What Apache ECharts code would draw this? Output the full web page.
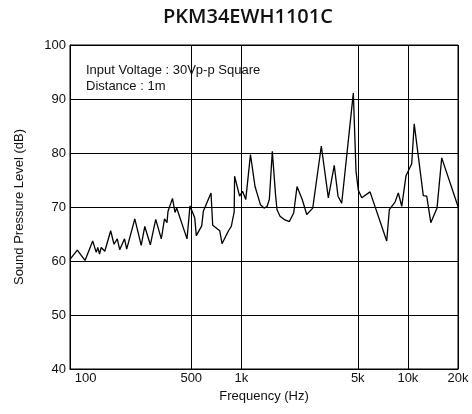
<!DOCTYPE html>
<html>
<head>
<meta charset="utf-8">
<script src="https://cdn.jsdelivr.net/npm/echarts@6/dist/echarts.min.js"></script>
<style>html,body{margin:0;padding:0;background:#fff}#c{width:472px;height:414px}</style>
</head>
<body>
<div id="c"></div>
<script>
var freqHz = [93.5,103.4,115.1,128.0,134.4,137.4,140.6,144.0,151.3,164.1,171.8,179.8,185.9,198.7,204.8,229.1,250.3,263.0,283.9,305.9,330.5,345.4,357.6,362.6,385.8,399.4,408.9,471.6,491.5,524.6,536.3,578.0,590.8,657.2,672.8,741.3,765.2,837.0,870.0,905.6,910.6,976.0,1016,1063,1134,1208,1303,1368,1426,1472,1534,1604,1637,1707,1829,1941,2062,2159,2320,2469,2683,3021,3329,3612,3806,4005,4703,4882,5040,5283,5925,7464,7738,8371,8762,9186,9748,10546,10916,12377,12976,13732,14962,15970,20000];
var splDb = [60.3,62.0,60.1,63.7,61.6,62.5,61.3,62.5,61.8,65.6,63.1,64.1,62.1,64.1,62.2,67.8,62.9,66.4,63.0,67.7,64.1,67.8,67.1,69.2,71.6,69.0,69.8,64.1,70.2,68.0,64.7,66.5,69.2,72.6,66.6,65.6,63.2,65.6,66.4,69.1,75.7,72.0,72.9,71.4,79.7,73.8,70.4,69.8,70.1,71.4,80.3,72.3,69.5,68.3,67.6,67.3,68.9,73.8,71.4,68.6,69.8,81.3,71.7,77.7,72.0,70.7,91.1,76.6,73.1,71.7,72.8,63.7,69.5,70.9,72.6,70.1,75.8,78.0,85.4,72.1,72.0,67.1,69.8,79.1,70.1];
var xTickValues = [100, 500, 1000, 5000, 10000, 20000];
var xTickLabels = ['100', '500', '1k', '5k', '10k', '20k'];
var gridFreqs = [500, 1000, 5000, 10000, 20000];
var titleText = 'PKM34EWH1101C';
var noteLines = ['Input Voltage : 30Vp-p Square', 'Distance : 1m'];

var data = freqHz.map(function (f, i) { return [f, splDb[i]]; });
var font = 'Liberation Sans, Arial, sans-serif';
var chart = echarts.init(document.getElementById('c'), null, {renderer: 'canvas'});
chart.setOption({
  animation: false,
  backgroundColor: '#ffffff',
  title: {
    text: titleText,
    left: 158, top: 2,
    textStyle: {fontFamily: 'Open Sans', fontWeight: 600, fontSize: 20, color: '#111'}
  },
  grid: {left: 70, right: 14, top: 45, bottom: 45, show: true, borderColor: '#000', borderWidth: 1},
  graphic: [{
    type: 'text', left: 86, top: 62,
    style: {text: noteLines.join('\n'), font: '13px ' + font, fill: '#111', lineHeight: 16}
  }],
  xAxis: {
    type: 'log', logBase: 10, min: 93.5, max: 20000,
    name: 'Frequency (Hz)', nameLocation: 'middle', nameGap: 19,
    nameTextStyle: {fontFamily: font, fontSize: 13, color: '#111'},
    axisLine: {show: true, lineStyle: {color: '#000', width: 1}},
    axisTick: {show: false, customValues: gridFreqs},
    splitLine: {show: true, lineStyle: {color: '#000', width: 1}},
    axisLabel: {
      customValues: xTickValues, alignMinLabel: 'left', margin: 3,
      fontFamily: font, fontSize: 13, color: '#111',
      formatter: function (v) { var i = xTickValues.indexOf(Math.round(v)); return i >= 0 ? xTickLabels[i] : ''; }
    }
  },
  yAxis: {
    type: 'value', min: 40, max: 100, interval: 10,
    name: 'Sound Pressure Level (dB)', nameLocation: 'middle', nameGap: 44,
    nameTextStyle: {fontFamily: font, fontSize: 13, color: '#111'},
    axisLine: {show: true, lineStyle: {color: '#000', width: 1}},
    axisTick: {show: false},
    splitLine: {show: true, lineStyle: {color: '#000', width: 1}},
    axisLabel: {margin: 4, fontFamily: font, fontSize: 13, color: '#111'}
  },
  series: [{
    type: 'line', data: data, showSymbol: false, symbol: 'none',
    lineStyle: {color: '#000', width: 1.3}
  }]
});
</script>
</body>
</html>
